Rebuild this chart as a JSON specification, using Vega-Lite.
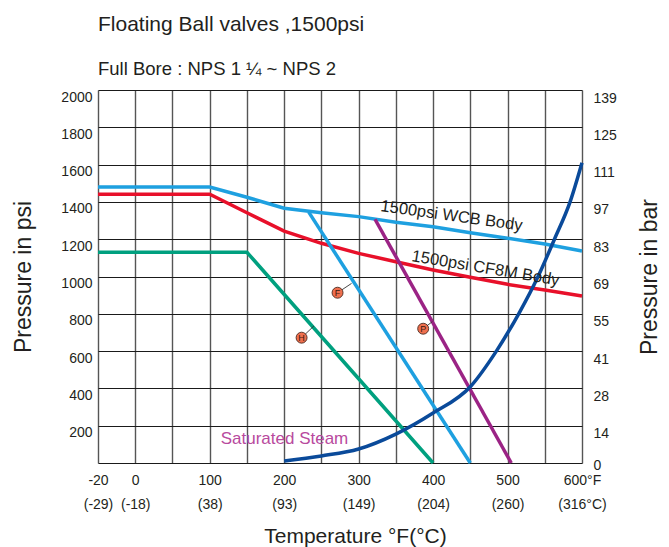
{
  "$schema": "https://vega.github.io/schema/vega-lite/v6.json",
  "width": 484,
  "height": 373,
  "autosize": {"type": "none"},
  "padding": {"left": 98, "top": 90, "right": 87, "bottom": 84},
  "background": "white",
  "title": {
    "text": "Floating Ball valves ,1500psi",
    "subtitle": "Full Bore : NPS 1 ¼ ~ NPS 2",
    "anchor": "start",
    "frame": "group",
    "font": "Liberation Sans",
    "fontSize": 21,
    "fontWeight": "normal",
    "color": "#231f20",
    "subtitleFont": "Liberation Sans",
    "subtitleFontSize": 18.5,
    "subtitleColor": "#231f20",
    "subtitlePadding": 25,
    "offset": 12
  },
  "config": {
    "view": {"stroke": null},
    "axis": {
      "labelFont": "Liberation Sans",
      "labelFontSize": 14,
      "labelColor": "#231f20",
      "titleFont": "Liberation Sans",
      "titleFontSize": 21,
      "titleFontWeight": "normal",
      "titleColor": "#231f20",
      "ticks": false,
      "domain": false,
      "labelOverlap": false,
      "labelBound": false,
      "labelFlush": false,
      "tickCount": 40
    }
  },
  "datasets": {
    "curves": [
      {"series": "WCB", "t": -20, "p": 1480},
      {"series": "WCB", "t": 100, "p": 1480},
      {"series": "WCB", "t": 150, "p": 1425},
      {"series": "WCB", "t": 200, "p": 1366},
      {"series": "WCB", "t": 250, "p": 1342},
      {"series": "WCB", "t": 300, "p": 1321},
      {"series": "WCB", "t": 350, "p": 1291},
      {"series": "WCB", "t": 400, "p": 1267},
      {"series": "WCB", "t": 450, "p": 1235},
      {"series": "WCB", "t": 500, "p": 1205},
      {"series": "WCB", "t": 550, "p": 1174},
      {"series": "WCB", "t": 600, "p": 1137},
      {"series": "CF8M", "t": -20, "p": 1441},
      {"series": "CF8M", "t": 100, "p": 1441},
      {"series": "CF8M", "t": 150, "p": 1342},
      {"series": "CF8M", "t": 200, "p": 1243},
      {"series": "CF8M", "t": 250, "p": 1178},
      {"series": "CF8M", "t": 300, "p": 1124},
      {"series": "CF8M", "t": 350, "p": 1079},
      {"series": "CF8M", "t": 400, "p": 1035},
      {"series": "CF8M", "t": 450, "p": 996},
      {"series": "CF8M", "t": 500, "p": 958},
      {"series": "CF8M", "t": 550, "p": 928},
      {"series": "CF8M", "t": 600, "p": 895},
      {"series": "H seat", "t": -20, "p": 1130},
      {"series": "H seat", "t": 150, "p": 1130},
      {"series": "H seat", "t": 400, "p": 0},
      {"series": "F seat", "t": 233, "p": 1345},
      {"series": "F seat", "t": 450, "p": 0},
      {"series": "P seat", "t": 322, "p": 1307},
      {"series": "P seat", "t": 505, "p": 0}
    ],
    "steam": [
      {"t": 200, "p": 11},
      {"t": 250, "p": 38},
      {"t": 300, "p": 75},
      {"t": 350, "p": 155},
      {"t": 400, "p": 268},
      {"t": 450, "p": 409},
      {"t": 485, "p": 600},
      {"t": 515, "p": 800},
      {"t": 541, "p": 1000},
      {"t": 563, "p": 1200},
      {"t": 584, "p": 1400},
      {"t": 600, "p": 1610}
    ],
    "markers": [
      {"letter": "F", "t": 271.7, "p": 913, "t2": 290.5, "p2": 963},
      {"letter": "H", "t": 223.4, "p": 672, "t2": 240, "p2": 735},
      {"letter": "P", "t": 386.7, "p": 720, "t2": 399, "p2": 758}
    ],
    "labels": [
      {"name": "wcb", "text": "1500psi WCB Body", "t": 424.8, "p": 1325},
      {"name": "cf8m", "text": "1500psi CF8M Body", "t": 470.5, "p": 1044},
      {"name": "steam", "text": "Saturated Steam", "t": 200.4, "p": 129}
    ]
  },
  "layer": [
    {
      "data": {"name": "curves"},
      "mark": {"type": "line", "strokeWidth": 3.5, "interpolate": "linear"},
      "encoding": {
        "x": {
          "field": "t", "type": "quantitative",
          "scale": {"domain": [-20, 0, 600], "range": [0, 37.25, 484], "nice": false, "zero": false},
          "axis": {
            "title": "Temperature °F(°C)",
            "titleX": 257,
            "values": [-20, 0, 50, 100, 150, 200, 250, 300, 350, 400, 450, 500, 550, 600],
            "tickCount": 40,
            "labelExpr": "datum.value == -20 ? ['-20','(-29)'] : datum.value == 0 ? ['0','(-18)'] : datum.value == 100 ? ['100','(38)'] : datum.value == 200 ? ['200','(93)'] : datum.value == 300 ? ['300','(149)'] : datum.value == 400 ? ['400','(204)'] : datum.value == 500 ? ['500','(260)'] : datum.value == 600 ? ['600°F','(316°C)'] : ''",
            "labelLineHeight": 24,
            "labelPadding": 10,
            "titlePadding": 14,
            "grid": true,
            "gridColor": "#555555",
            "gridWidth": 1.4
          }
        },
        "y": {
          "field": "p", "type": "quantitative",
          "scale": {"domain": [0, 2000], "nice": false, "zero": true},
          "axis": {
            "title": "Pressure in psi",
            "titleFontSize": 23,
            "orient": "left",
            "values": [0, 200, 400, 600, 800, 1000, 1200, 1400, 1600, 1800, 2000],
            "tickCount": 40,
            "labelExpr": "datum.value == 0 ? '' : datum.label",
            "format": "d",
            "labelOffset": 7,
            "labelPadding": 6,
            "titlePadding": 25,
            "grid": true,
            "gridColor": "#1a1a1a",
            "gridWidth": 1.1
          }
        },
        "color": {
          "field": "series", "type": "nominal",
          "scale": {"domain": ["WCB", "CF8M", "H seat", "F seat", "P seat"], "range": ["#1ea0e0", "#e8102a", "#00a07f", "#1ea0e0", "#9b2385"]},
          "legend": null
        },
        "detail": {"field": "series"}
      }
    },
    {
      "data": {"name": "steam"},
      "mark": {"type": "line", "strokeWidth": 3.5, "interpolate": "monotone", "color": "#0a4a9a"},
      "encoding": {
        "x": {"field": "t", "type": "quantitative"},
        "y": {"field": "p", "type": "quantitative", "axis": null}
      }
    },
    {
      "data": {"name": "markers"},
      "mark": {"type": "rule", "color": "#333333", "strokeWidth": 0.9},
      "encoding": {
        "x": {"field": "t", "type": "quantitative"},
        "y": {"field": "p", "type": "quantitative", "axis": null},
        "x2": {"field": "t2"},
        "y2": {"field": "p2"}
      }
    },
    {
      "data": {"name": "markers"},
      "mark": {"type": "point", "shape": "circle", "filled": true, "size": 120, "fill": "#ef6f4e", "stroke": "#4a2a20", "strokeWidth": 0.9, "opacity": 1},
      "encoding": {
        "x": {"field": "t", "type": "quantitative"},
        "y": {
          "field": "p", "type": "quantitative",
          "axis": {
            "title": "Pressure in bar",
            "titleFontSize": 23,
            "orient": "right",
            "values": [0, 200, 400, 600, 800, 1000, 1200, 1400, 1600, 1800, 2000],
            "tickCount": 40,
            "labelExpr": "['0','14','28','41','55','69','83','97','111','125','139'][round(datum.value/200)]",
            "labelOffset": {"condition": {"test": "datum.value == 0", "value": 2}, "value": 8},
            "labelPadding": 11,
            "titlePadding": 45,
            "titleAngle": -90,
            "grid": false
          }
        }
      }
    },
    {
      "data": {"name": "markers"},
      "mark": {"type": "text", "font": "Liberation Sans", "fontSize": 9, "color": "#3a1a10", "baseline": "middle", "align": "center"},
      "encoding": {
        "x": {"field": "t", "type": "quantitative"},
        "y": {"field": "p", "type": "quantitative", "axis": null},
        "text": {"field": "letter"}
      }
    },
    {
      "data": {"name": "labels"},
      "transform": [{"filter": "datum.name == 'wcb'"}],
      "mark": {"type": "text", "font": "Liberation Sans", "fontSize": 16.5, "color": "#231f20", "angle": 8, "align": "center", "baseline": "middle"},
      "encoding": {
        "x": {"field": "t", "type": "quantitative"},
        "y": {"field": "p", "type": "quantitative", "axis": null},
        "text": {"field": "text"}
      }
    },
    {
      "data": {"name": "labels"},
      "transform": [{"filter": "datum.name == 'cf8m'"}],
      "mark": {"type": "text", "font": "Liberation Sans", "fontSize": 16.5, "color": "#231f20", "angle": 9.5, "align": "center", "baseline": "middle"},
      "encoding": {
        "x": {"field": "t", "type": "quantitative"},
        "y": {"field": "p", "type": "quantitative", "axis": null},
        "text": {"field": "text"}
      }
    },
    {
      "data": {"name": "labels"},
      "transform": [{"filter": "datum.name == 'steam'"}],
      "mark": {"type": "text", "font": "Liberation Sans", "fontSize": 17, "color": "#b84a9e", "align": "center", "baseline": "middle"},
      "encoding": {
        "x": {"field": "t", "type": "quantitative"},
        "y": {"field": "p", "type": "quantitative", "axis": null},
        "text": {"field": "text"}
      }
    }
  ],
  "resolve": {"axis": {"y": "independent"}}
}
